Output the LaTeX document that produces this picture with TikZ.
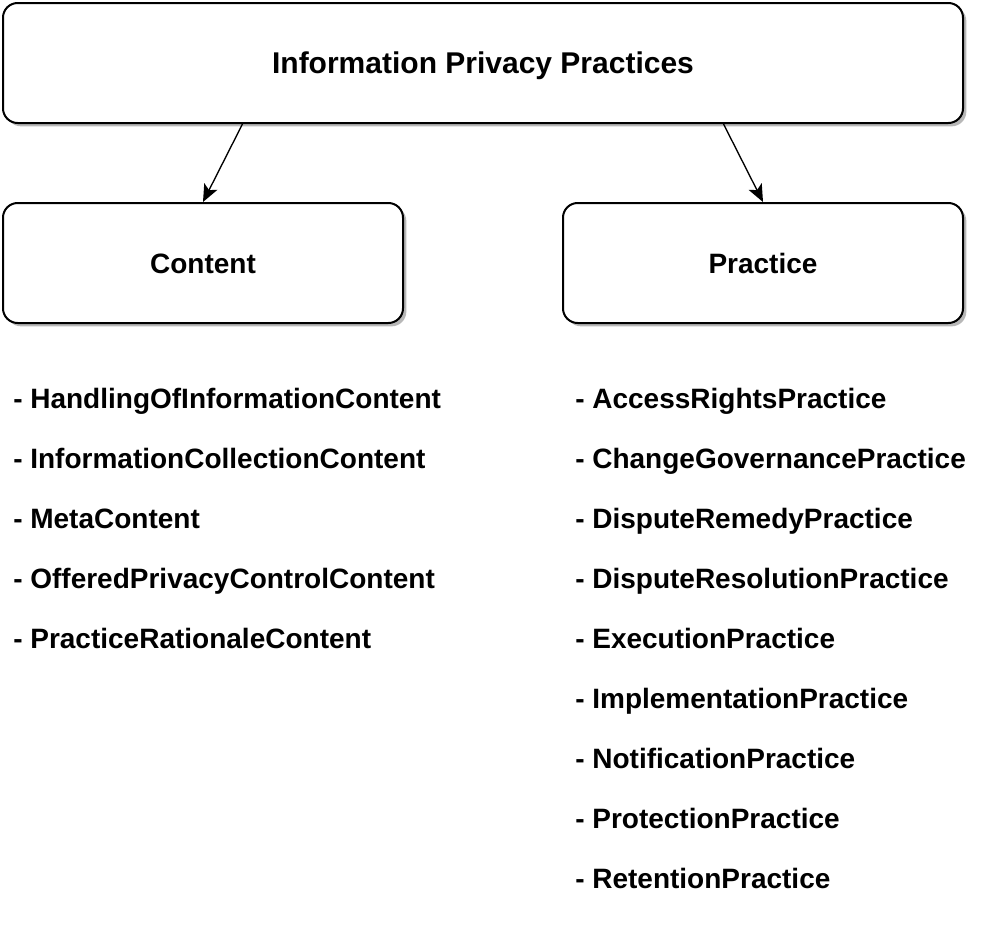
\documentclass[tikz,border=0pt]{standalone}
\usepackage{fontspec}
\setmainfont{Liberation Sans}
\usetikzlibrary{shadows,arrows.meta}
\begin{document}
\begin{tikzpicture}[x=0.75pt,y=-0.75pt,
  box/.style={draw=black, line width=1.5pt, rounded corners=11pt, fill=white,
    general shadow={fill=black!28, shadow xshift=2.5pt, shadow yshift=-2.5pt},
    font=\fontsize{21}{25}\selectfont\bfseries, align=center, inner sep=0pt,
    text height=15pt, text depth=0pt},
  item/.style={anchor=west, font=\fontsize{21}{25}\selectfont\bfseries, inner sep=0pt,
    text height=15pt, text depth=0pt},
  conn/.style={draw=black, line width=1pt, -{Stealth[length=13pt,width=11pt,inset=3pt]}}]
\useasboundingbox (0,0) rectangle (999,929);
\node[box, minimum width=720pt, minimum height=90pt, font=\fontsize{22.5}{27}\selectfont\bfseries, text height=16pt] (top) at (483,63) {Information Privacy Practices};
\node[box, minimum width=300pt, minimum height=90pt] (content) at (203,263) {Content};
\node[box, minimum width=300pt, minimum height=90pt] (practice) at (763,263) {Practice};
\coordinate (t1) at (243,123);
\coordinate (t2) at (723,123);
\draw[conn] (t1) -- (content.north);
\draw[conn] (t2) -- (practice.north);
\node[item] (c1) at (13,398) {- HandlingOfInformationContent};
\node[item] (c2) at (13,458) {- InformationCollectionContent};
\node[item] (c3) at (13,518) {- MetaContent};
\node[item] (c4) at (13,578) {- OfferedPrivacyControlContent};
\node[item] (c5) at (13,638) {- PracticeRationaleContent};
\node[item] (p1) at (575,398) {- AccessRightsPractice};
\node[item] (p2) at (575,458) {- ChangeGovernancePractice};
\node[item] (p3) at (575,518) {- DisputeRemedyPractice};
\node[item] (p4) at (575,578) {- DisputeResolutionPractice};
\node[item] (p5) at (575,638) {- ExecutionPractice};
\node[item] (p6) at (575,698) {- ImplementationPractice};
\node[item] (p7) at (575,758) {- NotificationPractice};
\node[item] (p8) at (575,818) {- ProtectionPractice};
\node[item] (p9) at (575,878) {- RetentionPractice};
\end{tikzpicture}
\end{document}
